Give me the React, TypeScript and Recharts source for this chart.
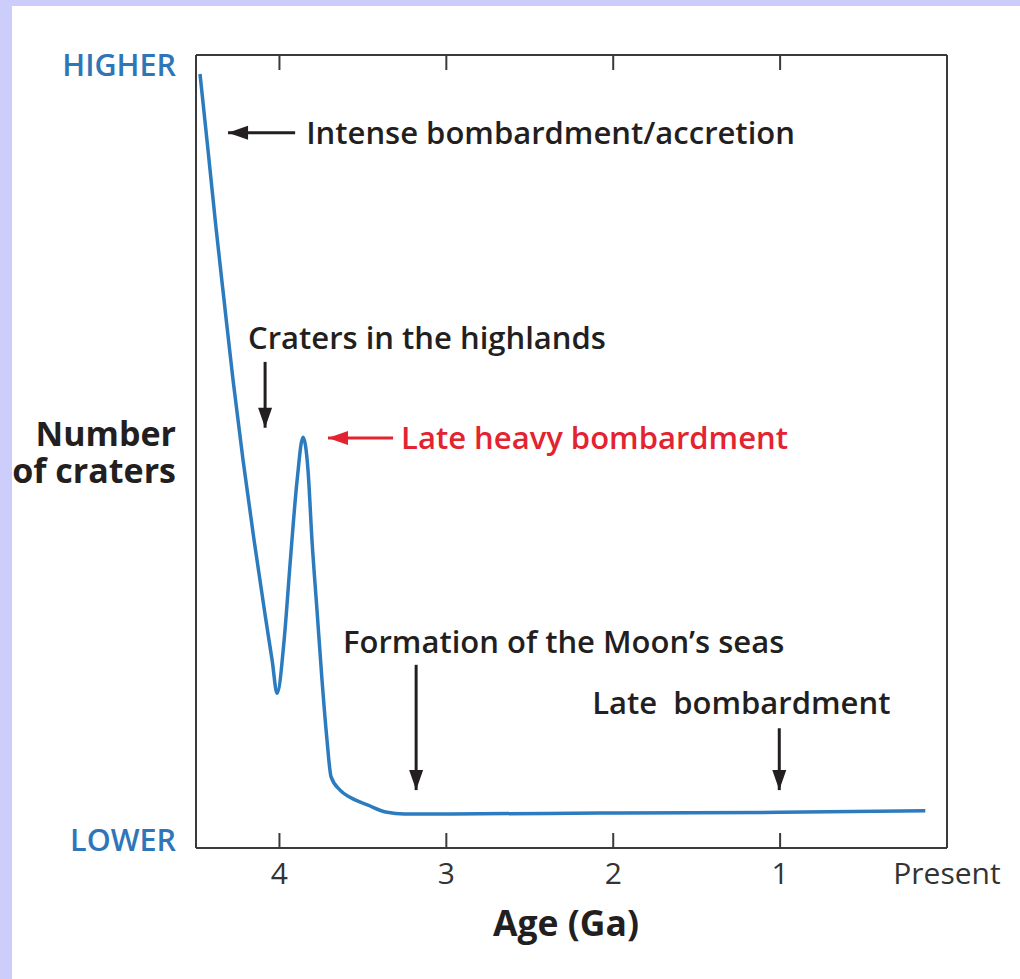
import React from 'react';
import { LineChart, Line, XAxis, YAxis, ReferenceLine, ReferenceDot, Label } from 'recharts';

// Crater-count curve (age in Ga, relative number of craters 0..100)
const ages = [4.476, 4.428, 4.38, 4.332, 4.278, 4.218, 4.152, 4.086, 4.044, 4.014, 3.972, 3.936, 3.894, 3.859, 3.829, 3.805, 3.775, 3.745, 3.715, 3.691, 3.637, 3.577, 3.469, 3.355, 3.253, 2.977, 2.078, 0.999, 0.13];
const craterCounts = [97.6, 88.0, 78.2, 69.1, 59.0, 48.9, 38.8, 29.4, 23.7, 19.5, 26.2, 35.9, 46.4, 51.8, 47.7, 38.8, 30.0, 21.2, 13.6, 9.0, 7.3, 6.4, 5.4, 4.5, 4.3, 4.3, 4.4, 4.5, 4.7];

const xTicks = [4, 3, 2, 1, 0];
const xTickLabels = ['4', '3', '2', '1', 'Present'];
const yTicks = [1, 98.7];
const yTickLabels = ['LOWER', 'HIGHER'];

// Annotations
const noteTexts = ['Intense bombardment/accretion', 'Craters in the highlands', 'Late heavy bombardment', 'Formation of the Moon\u2019s seas', 'Late\u00a0 bombardment'];
const noteAges = [3.84, 4.188, 3.271, 3.619, 2.126];
const noteValues = [90.2, 64.3, 51.7, 26.0, 18.3];
const noteColors = ['#231f20', '#231f20', '#e3232f', '#231f20', '#231f20'];
const arrowTailAges = [3.906, 4.086, 3.319, 3.181, 1.005];
const arrowTailValues = [90.2, 61.3, 51.7, 23.1, 15.1];
const arrowTipAges = [4.308, 4.086, 3.709, 3.181, 1.005];
const arrowTipValues = [90.2, 53.0, 51.7, 7.3, 7.3];
const arrowDirections = ['left', 'down', 'left', 'down', 'down'];

const data = ages.map((a, i) => ({ age: a, count: craterCounts[i] }));

const FONT = '"Open Sans", "Noto Sans", sans-serif';
const BLUE = '#2c7bbf';
const AXIS = '#3a3a3a';

const BottomTick = (props: any) => {
  const { x, y, payload } = props;
  const idx = xTicks.indexOf(payload.value);
  return (
    <g>
      <line x1={x} y1={y} x2={x} y2={y - 15} stroke={AXIS} strokeWidth={2} />
      <text x={x} y={y + 36} textAnchor="middle" fontFamily={FONT} fontSize={30} fill="#333">
        {xTickLabels[idx]}
      </text>
    </g>
  );
};

const TopTick = (props: any) => {
  const { x, y } = props;
  return <line x1={x} y1={y} x2={x} y2={y + 15} stroke={AXIS} strokeWidth={2} />;
};

const LeftTick = (props: any) => {
  const { x, y, payload } = props;
  const idx = yTicks.indexOf(payload.value);
  return (
    <text x={x - 20} y={y + 11} textAnchor="end" fontFamily={FONT} fontWeight={600} fontSize={30.5} fill="#2e76b8">
      {yTickLabels[idx]}
    </text>
  );
};

const makeArrowHead = (dir: string, color: string) => (p: any) => {
  const { cx, cy } = p;
  const L = 20;
  const W = 7;
  const pts = dir === 'left'
    ? `${cx},${cy} ${cx + L},${cy - W} ${cx + L},${cy + W}`
    : `${cx},${cy} ${cx - W},${cy - L} ${cx + W},${cy - L}`;
  return <polygon points={pts} fill={color} />;
};

const makeNote = (text: string, color: string) => (p: any) => {
  const { cx, cy } = p;
  return (
    <text x={cx} y={cy + 11} textAnchor="start" fontFamily={FONT} fontWeight={600} fontSize={31} fill={color}>
      {text}
    </text>
  );
};

export default function App() {
  return (
    <div style={{ position: 'absolute', left: 0, top: 0, width: 1020, height: 979, background: '#cdcdfb', overflow: 'hidden' }}>
      <div style={{ position: 'absolute', left: 12, top: 6, right: 0, bottom: 0, background: '#ffffff' }} />
      <div style={{ position: 'absolute', left: 0, top: 0 }}>
        <LineChart width={1020} height={979} data={data} margin={{ top: 54, right: 0, bottom: 0, left: 0 }}>
          <XAxis
            xAxisId="b"
            dataKey="age"
            type="number"
            domain={[0, 4.5]}
            reversed
            ticks={xTicks}
            interval={0}
            height={131}
            tickSize={0}
            tickMargin={0}
            tickLine={false}
            axisLine={{ stroke: AXIS, strokeWidth: 2 }}
            tick={<BottomTick />}
          >
            <Label
              content={(p: any) => {
                const vb = p.viewBox;
                return (
                  <text x={566} y={vb.y + 88} textAnchor="middle" fontFamily={FONT} fontWeight={700} fontSize={35.5} fill="#231f20">
                    Age (Ga)
                  </text>
                );
              }}
            />
          </XAxis>
          <XAxis
            xAxisId="t"
            orientation="top"
            dataKey="age"
            type="number"
            domain={[0, 4.5]}
            reversed
            ticks={xTicks.slice(0, 4)}
            interval={0}
            height={1}
            tickSize={0}
            tickMargin={0}
            tickLine={false}
            axisLine={{ stroke: AXIS, strokeWidth: 2 }}
            tick={<TopTick />}
          />
          <YAxis
            yAxisId="l"
            type="number"
            domain={[0, 100]}
            ticks={yTicks}
            interval={0}
            width={196}
            tickSize={0}
            tickMargin={0}
            tickLine={false}
            axisLine={{ stroke: AXIS, strokeWidth: 2 }}
            tick={<LeftTick />}
          >
            <Label
              content={(p: any) => {
                const vb = p.viewBox;
                const mid = vb.y + vb.height / 2;
                return (
                  <text textAnchor="end" fontFamily={FONT} fontWeight={700} fontSize={34} fill="#231f20">
                    <tspan x={vb.x + vb.width - 20} y={mid - 6}>Number</tspan>
                    <tspan x={vb.x + vb.width - 20} y={mid + 31}>of craters</tspan>
                  </text>
                );
              }}
            />
          </YAxis>
          <YAxis
            yAxisId="r"
            orientation="right"
            type="number"
            domain={[0, 100]}
            width={73}
            tick={false}
            tickLine={false}
            axisLine={{ stroke: AXIS, strokeWidth: 2 }}
          />
          <Line
            xAxisId="b"
            yAxisId="l"
            type="monotone"
            dataKey="count"
            stroke={BLUE}
            strokeWidth={3.5}
            dot={false}
            activeDot={false}
            isAnimationActive={false}
          />
          {noteTexts.map((t, i) => (
            <ReferenceLine
              key={`shaft-${i}`}
              xAxisId="b"
              yAxisId="l"
              segment={[{ x: arrowTailAges[i], y: arrowTailValues[i] }, { x: arrowTipAges[i], y: arrowTipValues[i] }]}
              stroke={i === 2 ? '#e3232f' : '#231f20'}
              strokeWidth={3}
            />
          ))}
          {noteTexts.map((t, i) => (
            <ReferenceDot
              key={`head-${i}`}
              xAxisId="b"
              yAxisId="l"
              x={arrowTipAges[i]}
              y={arrowTipValues[i]}
              r={1}
              shape={makeArrowHead(arrowDirections[i], i === 2 ? '#e3232f' : '#231f20')}
            />
          ))}
          {noteTexts.map((t, i) => (
            <ReferenceDot
              key={`note-${i}`}
              xAxisId="b"
              yAxisId="l"
              x={noteAges[i]}
              y={noteValues[i]}
              r={1}
              shape={makeNote(t, noteColors[i])}
            />
          ))}
        </LineChart>
      </div>
    </div>
  );
}
